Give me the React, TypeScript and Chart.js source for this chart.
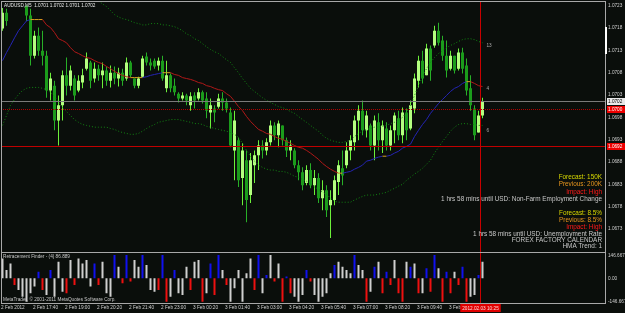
import React, { useEffect, useRef } from "react";
import { Chart, registerables } from "chart.js";

Chart.register(...registerables);

// ---------- data (prices stored as pips above 1.0600) ----------
const PIP_BASE = 1.06;
const PIP_SIZE = 0.0001;
const SYMBOL_TITLE = "AUDUSD,M5  1.0701 1.0702 1.0701 1.0702";

const OPEN_PIPS = [117.9,121.4,125.2,127.4,126.3,128.6,123.0,120.8,111.8,116.3,112.9,111.8,104.0,105.1,97.3,100.7,107.4,105.1,106.7,104.0,105.8,108.9,110.3,106.7,108.9,107.4,108.5,106.2,108.0,106.7,108.0,106.7,110.3,106.7,105.1,107.1,111.6,110.3,110.7,109.6,110.7,104.5,107.4,105.1,103.3,102.2,102.9,100.7,102.9,102.2,103.6,102.2,99.1,100.0,100.4,102.2,101.3,99.1,90.6,92.9,84.4,88.4,80.6,87.3,89.5,91.7,90.6,92.4,96.2,94.0,96.2,92.9,90.6,90.6,87.3,85.7,83.3,86.2,82.8,84.4,79.9,81.7,78.3,79.5,83.5,86.6,87.3,90.6,92.4,97.3,99.5,95.1,96.2,91.7,96.9,92.9,95.5,91.7,95.1,97.8,94.0,99.1,95.5,100.0,106.2,110.7,107.4,113.4,114.1,117.4,115.2,111.8,108.9,111.8,108.9,112.5,109.6,104.5,100.0,94.6,98.4];
const HIGH_PIPS = [122.5,122.3,128.6,129.7,129.7,128.6,123.0,122.3,117.4,118.1,117.4,112.9,108.0,106.2,102.9,108.5,111.4,109.6,107.4,107.4,108.9,112.5,110.7,110.3,109.8,110.3,109.4,109.6,109.4,109.1,108.9,111.4,110.7,106.7,107.1,111.8,112.5,111.2,111.2,111.4,111.8,110.7,107.8,106.7,103.6,103.6,103.3,103.6,103.6,104.5,104.0,103.6,102.2,100.7,103.3,103.6,102.2,100.2,99.5,93.5,92.2,90.6,90.0,90.6,92.9,92.9,93.3,97.3,96.9,97.3,96.2,93.5,92.9,91.1,88.4,86.8,87.3,87.7,86.2,85.5,83.9,82.8,81.7,85.0,88.4,90.6,92.4,94.0,98.4,100.7,101.8,99.5,96.6,98.4,98.9,97.3,96.9,96.2,99.1,99.5,100.2,100.0,101.8,107.8,111.8,112.9,114.5,114.1,118.5,119.2,116.3,115.2,112.9,111.8,113.4,113.6,111.2,107.4,100.7,99.5,102.4];
const LOW_PIPS = [117.4,118.5,124.5,125.2,124.8,124.1,119.6,109.6,111.2,111.8,109.6,102.4,101.8,95.1,91.7,97.3,102.9,104.0,101.8,103.6,104.5,108.5,104.5,105.8,106.2,104.5,105.1,104.7,105.4,104.9,105.1,106.2,106.9,104.5,104.5,106.9,109.6,108.5,108.9,108.5,106.2,103.6,103.6,102.9,101.3,101.8,100.7,99.5,100.0,101.8,101.1,97.8,95.5,96.9,100.0,99.5,99.1,91.3,83.9,82.4,78.3,74.5,78.8,83.3,86.2,88.8,89.5,91.7,92.9,91.3,91.7,89.1,88.4,86.6,83.9,81.7,82.8,82.1,80.6,78.8,77.2,75.7,71.0,78.3,80.6,82.8,86.6,88.4,90.6,92.9,94.0,93.5,90.6,88.4,90.6,90.0,90.6,90.6,92.2,92.9,92.2,92.9,95.1,98.9,104.7,105.6,107.4,106.2,113.6,114.1,110.7,106.9,108.5,107.8,108.5,107.8,102.9,99.5,92.9,94.6,97.8];
const CLOSE_PIPS = [121.4,119.6,127.4,126.3,128.6,125.2,120.8,111.8,116.3,112.9,111.8,104.0,106.7,97.3,100.7,107.4,105.1,108.5,102.9,106.2,107.4,111.2,106.2,108.9,107.4,108.5,106.2,108.0,106.7,108.0,106.2,110.3,107.4,105.1,106.7,111.2,110.3,109.6,109.4,110.7,106.7,107.4,104.5,103.6,102.2,102.9,101.8,102.7,101.8,103.6,101.8,99.5,100.7,99.1,102.2,101.3,100.0,91.7,97.3,83.9,90.6,79.5,88.4,89.5,91.7,90.6,92.4,96.2,94.0,96.6,92.9,90.6,91.7,87.3,85.7,82.8,86.2,82.8,84.4,79.9,81.7,77.2,79.5,83.9,87.3,85.0,90.6,92.9,97.3,99.5,95.1,98.4,91.7,97.3,92.9,96.2,91.7,95.1,98.4,94.0,99.1,95.1,100.7,106.7,110.7,106.7,113.4,108.5,117.4,114.7,111.8,108.5,111.8,108.5,112.5,108.9,104.0,100.7,94.0,98.4,101.6];
const HMA_PIPS = [110.7,112.5,114.1,115.8,117.4,118.5,119.6,119.9,119.9,119.9,119.9,118.7,118.1,117.0,115.6,115.2,114.7,113.6,112.7,112.3,111.8,111.4,111.2,110.7,110.3,110.0,109.4,108.9,108.3,107.8,107.4,107.1,106.9,106.9,106.9,106.9,107.1,107.4,107.6,107.8,108.0,108.0,108.0,107.6,107.4,106.9,106.7,106.5,106.2,105.8,105.6,105.1,104.9,104.5,104.2,104.0,103.3,102.7,101.6,100.4,99.5,98.2,97.1,96.2,95.3,94.9,94.4,94.2,93.7,93.3,93.1,92.6,92.2,91.7,91.3,91.1,90.6,90.0,89.3,88.6,87.7,87.0,86.4,85.9,85.5,85.5,85.7,85.9,86.4,86.8,87.3,88.2,88.4,88.8,89.1,89.3,89.3,89.5,90.0,90.4,91.1,91.5,92.0,93.7,95.1,96.4,97.5,98.9,100.0,101.1,102.0,102.9,103.8,104.5,104.9,105.6,106.0,106.0,105.6,105.1,104.9];
const BAND_UPPER_PIPS = [null,null,null,null,null,null,null,null,null,null,null,null,null,null,null,null,null,null,null,null,null,null,null,null,124.1,123.4,122.8,121.9,121.0,120.5,120.1,119.9,119.6,119.2,119.0,118.7,118.7,119.0,119.0,119.0,118.7,118.7,118.5,118.3,117.9,117.4,116.7,116.3,115.6,115.2,114.5,113.8,113.2,112.7,112.3,111.6,110.9,110.3,109.1,108.0,106.7,105.6,104.5,103.8,103.1,102.4,101.8,101.3,100.9,100.4,100.2,99.8,99.3,98.9,98.2,97.5,96.9,96.2,95.5,94.9,94.0,93.3,92.9,92.6,92.4,92.4,92.6,92.9,93.7,94.4,94.9,95.3,95.5,95.8,95.8,96.0,96.2,96.6,96.9,97.3,98.0,99.1,100.7,102.9,105.1,107.1,108.9,110.3,111.4,112.3,112.9,113.6,114.1,114.5,115.0,115.4,115.6,115.6,115.4,115.0,114.7];
const BAND_LOWER_PIPS = [96.2,98.4,100.7,102.0,103.1,104.0,104.5,104.7,104.7,104.7,104.5,104.2,103.6,102.7,101.3,100.2,99.3,98.4,97.5,96.9,96.4,96.2,96.0,95.8,95.8,95.8,95.8,95.5,95.3,94.9,94.6,94.4,94.2,94.2,94.4,94.9,95.5,96.0,96.4,96.9,97.1,97.3,97.5,97.5,97.5,97.3,97.1,96.9,96.6,96.6,96.4,96.0,95.8,95.5,95.3,95.1,94.9,94.6,94.2,93.5,92.2,90.6,89.3,88.2,87.3,86.8,86.4,86.2,86.2,85.9,85.9,85.7,85.3,84.8,84.6,84.1,83.7,83.0,82.4,81.9,81.2,80.8,79.9,79.2,79.0,79.0,79.0,79.0,79.5,79.9,80.3,80.6,80.6,80.6,80.8,81.0,81.2,81.7,82.1,82.6,83.0,83.9,84.6,85.3,85.9,86.6,87.5,88.4,90.0,91.3,92.6,93.7,94.9,95.8,96.4,96.6,96.6,96.4,96.4,96.2,96.2];

const OSC_VALUES = [127,53,95,-42,-74,-117,-149,-95,-53,42,-74,-106,53,-117,106,-85,-95,117,-42,127,95,117,-53,95,-42,106,-95,-117,148,74,-32,148,-21,117,74,148,85,-74,-85,-74,148,-149,-117,53,-95,-106,74,-74,106,117,-149,-95,95,-106,148,53,-42,-149,-64,53,-149,32,127,-74,148,-95,21,148,-21,95,-149,11,-95,-117,-149,-106,53,-21,-106,-149,-117,-95,32,85,106,74,53,32,148,85,53,-149,-85,74,106,-95,42,-42,117,-95,-149,106,74,95,-95,-95,64,-85,148,64,-149,42,-95,42,-42,74,-149,-117,-106,21,106];
// w = neutral, b = up signal, r = down signal
const OSC_STATE = "wwwrwwwwwbrwbwwwrwrwwwwbrwwwbwrbrwwbwwwrbrwbwwwrwwrwbrbwrwwwwwwrbwbwrwrbrwwwbrwwwwwbwwwwbwwrwbwrbrwrrwbwrwbrbwrbrwrbrwwbw";

const TIME_TICKS = ["2 Feb 2012","2 Feb 17:40","2 Feb 19:00","2 Feb 20:20","2 Feb 21:40","2 Feb 23:00","3 Feb 00:20","3 Feb 01:40","3 Feb 03:00","3 Feb 04:20","3 Feb 05:40","3 Feb 07:00","3 Feb 08:20","3 Feb 09:40","3 Feb 11:00"];
const TIME_TICK_EVERY = 8;
const PRICE_TICKS = [1.0723,1.0718,1.0713,1.0708,1.0703,1.0698,1.0693,1.0688,1.0683,1.0678,1.0673];
const BID_PRICE = 1.07017;
const DOTTED_LEVEL = 1.06999;
const SOLID_LEVEL = 1.06916;
const OSC_TICKS = [146.667, 0, -146.667];
const OSC_TICK_LABELS = ["146.667", "0.00", "-146.667"];
const CURSOR_INDEX = 119.5;
const CURSOR_LABEL = "2012.02.03 10:25";
const BAND_TAGS = ["13", "4", "6"];
const OSC_TITLE = "Retracement Finder - (4) 86.889";
const COPYRIGHT = "MetaTrader, \u00a9 2001-2011 MetaQuotes Software Corp.";
const NEWS_LINES = [
  { text: "Forecast: 150K", kind: "forecast" },
  { text: "Previous: 200K", kind: "previous" },
  { text: "Impact: High", kind: "impact" },
  { text: "1 hrs 58 mins until USD: Non-Farm Employment Change", kind: "event" },
  { text: "Forecast: 8.5%", kind: "forecast" },
  { text: "Previous: 8.5%", kind: "previous" },
  { text: "Impact: High", kind: "impact" },
  { text: "1 hrs 58 mins until USD: Unemployment Rate", kind: "event" },
  { text: "FOREX FACTORY CALENDAR", kind: "event" },
  { text: "HMA Trend: 1", kind: "event" },
];
const NEWS_Y = [177, 184.5, 192, 199.5, 213, 220.5, 227.5, 234, 240.5, 246.5];

// ---------- styles ----------
const BG = "#0a0e0b";
const SMALL_FONT = "4.7px 'Liberation Sans', Arial, sans-serif";
const NEWS_FONT = "6.4px 'Liberation Sans', Arial, sans-serif";
const NEWS_COLORS: Record<string, string> = { forecast: "#d8d800", previous: "#e8961e", impact: "#ff1a1a", event: "#c8c8c8" };
const OSC_COLORS: Record<string, string> = { w: "#cfcfcf", b: "#1010f0", r: "#ee1010" };

const toPrice = (p: number | null) => (p == null ? null : +(PIP_BASE + p * PIP_SIZE).toFixed(5));
const N_BARS = OPEN_PIPS.length;

function buildConfig(): any {
  const bull = OPEN_PIPS.map((o, i) => CLOSE_PIPS[i] >= o);
  const bodies = OPEN_PIPS.map((o, i) => ({ x: i, y: [toPrice(o), toPrice(CLOSE_PIPS[i])] }));
  const wicks = LOW_PIPS.map((l, i) => ({ x: i, y: [toPrice(l), toPrice(HIGH_PIPS[i])] }));
  const line = (arr: (number | null)[]) =>
    arr.map((v, i) => ({ x: i, y: toPrice(v) })).filter((p) => p.y != null);

  const barCommon = { type: "bar", grouped: false, inflateAmount: 0, borderWidth: 0, clip: 0, yAxisID: "y" };

  return {
    type: "bar",
    data: {
      datasets: [
        {
          type: "line", label: "HMA", data: line(HMA_PIPS), yAxisID: "y",
          borderWidth: 1, pointRadius: 0, tension: 0, borderColor: "#b01818",
          segment: {
            borderColor: (c: any) => {
              const a = c.p0.parsed.y, b = c.p1.parsed.y;
              if (Math.abs(b - a) < 1e-7) return "#d8a020";
              return b > a ? "#2424b4" : "#b01818";
            },
          },
        },
        {
          type: "line", label: "Upper", data: line(BAND_UPPER_PIPS), yAxisID: "y",
          borderWidth: 1, pointRadius: 0, tension: 0, borderColor: "#128512", borderDash: [1, 2],
        },
        {
          type: "line", label: "Lower", data: line(BAND_LOWER_PIPS), yAxisID: "y",
          borderWidth: 1, pointRadius: 0, tension: 0, borderColor: "#128512", borderDash: [1, 2],
        },
        {
          ...barCommon, label: "Bodies", data: bodies, barThickness: 3, minBarLength: 1,
          backgroundColor: bull.map((u) => (u ? "#b4ff80" : "#1b9c1b")),
        },
        {
          ...barCommon, label: "Wicks", data: wicks, barThickness: 1,
          backgroundColor: bull.map((u) => (u ? "#6cf03a" : "#27b027")),
        },
        {
          type: "bar", label: "Osc", yAxisID: "y2", grouped: false, inflateAmount: 0, borderWidth: 0,
          data: OSC_VALUES.map((v, i) => ({ x: i, y: v })), barThickness: 2,
          backgroundColor: OSC_VALUES.map((_, i) => OSC_COLORS[OSC_STATE[i]]),
        },
      ],
    },
    options: {
      responsive: false,
      animation: false,
      devicePixelRatio: 1,
      events: [],
      layout: { padding: { left: 0.5, right: 20.5, top: 2, bottom: 10 } },
      plugins: { legend: { display: false }, tooltip: { enabled: false } },
      scales: {
        x: { type: "linear", display: false, min: -0.5, max: 150.5, offset: false, grid: { display: false } },
        y: { type: "linear", display: false, min: 1.065643, max: 1.072383, grid: { display: false } },
        y2: { type: "linear", display: false, min: -157.5, max: 1762, grid: { display: false } },
      },
    },
    plugins: [mt4Plugin],
  };
}

const mt4Plugin = {
  id: "mt4Decor",
  beforeDraw(chart: any) {
    const { ctx, width, height } = chart;
    ctx.save();
    ctx.fillStyle = BG;
    ctx.fillRect(0, 0, width, height);
    ctx.restore();
  },
  afterDatasetsDraw(chart: any) {
    const { ctx, scales } = chart;
    const xs = scales.x, ys = scales.y, y2 = scales.y2;
    const L = 1, R = 605, T = 1, B = 303, SEP = 252;
    const snap = (v: number) => Math.round(v) + 0.5;
    ctx.save();

    const hline = (py: number, color: string, dash: number[]) => {
      ctx.beginPath();
      ctx.setLineDash(dash);
      ctx.strokeStyle = color;
      ctx.lineWidth = 1;
      ctx.moveTo(L, snap(py));
      ctx.lineTo(R, snap(py));
      ctx.stroke();
      ctx.setLineDash([]);
    };
    hline(ys.getPixelForValue(BID_PRICE), "#7a7a7a", []);
    hline(ys.getPixelForValue(DOTTED_LEVEL), "#b00000", [1, 1]);
    hline(ys.getPixelForValue(SOLID_LEVEL), "#c00000", []);

    // vertical cursor line
    const cx = snap(xs.getPixelForValue(CURSOR_INDEX));
    ctx.beginPath();
    ctx.strokeStyle = "#c80000";
    ctx.moveTo(cx, T);
    ctx.lineTo(cx, B);
    ctx.stroke();

    // frame
    ctx.strokeStyle = "#a8a8a8";
    ctx.beginPath();
    ctx.moveTo(L + 0.5, T); ctx.lineTo(L + 0.5, B);
    ctx.moveTo(L, T + 0.5); ctx.lineTo(R, T + 0.5);
    ctx.moveTo(R + 0.5, T); ctx.lineTo(R + 0.5, B + 1);
    ctx.moveTo(L, B + 0.5); ctx.lineTo(R, B + 0.5);
    ctx.moveTo(L, SEP + 0.5); ctx.lineTo(R, SEP + 0.5);
    ctx.stroke();
    ctx.fillStyle = "#ffffff";
    ctx.fillRect(605, 27, 2, 27);

    // price axis labels
    ctx.font = SMALL_FONT;
    ctx.textBaseline = "middle";
    ctx.textAlign = "left";
    ctx.fillStyle = "#d0d0d0";
    PRICE_TICKS.forEach((p) => {
      const py = ys.getPixelForValue(p);
      ctx.fillText(p.toFixed(4), 608, py);
    });
    const box = (price: number, bg: string, fg: string) => {
      const py = Math.round(ys.getPixelForValue(price));
      ctx.fillStyle = bg;
      ctx.fillRect(607, py - 3, 18, 7);
      ctx.fillStyle = fg;
      ctx.fillText(price.toFixed(4), 608, py + 0.5);
    };
    box(BID_PRICE, "#e8e8e8", "#000000");
    box(DOTTED_LEVEL, "#ee0000", "#ffffff");
    box(SOLID_LEVEL, "#ee0000", "#ffffff");

    // oscillator labels
    ctx.fillStyle = "#d0d0d0";
    OSC_TICKS.forEach((v, i) => ctx.fillText(OSC_TICK_LABELS[i], 608, y2.getPixelForValue(v)));

    // time labels
    TIME_TICKS.forEach((t, k) => {
      const px = xs.getPixelForValue(k * TIME_TICK_EVERY);
      ctx.fillText(t, px - 1.5, 308);
    });
    // cursor time box
    ctx.textAlign = "center";
    const tw = ctx.measureText(CURSOR_LABEL).width + 4;
    ctx.fillStyle = "#e00000";
    ctx.fillRect(cx - tw / 2, 304, tw, 8);
    ctx.fillStyle = "#ffd8d8";
    ctx.fillText(CURSOR_LABEL, cx, 308.5);

    // title & captions
    ctx.textAlign = "left";
    ctx.fillStyle = "#e8e8e8";
    ctx.fillText(SYMBOL_TITLE, 4, 5.5);
    ctx.fillStyle = "#c8c8c8";
    ctx.fillText(OSC_TITLE, 3, 257);
    ctx.fillText(COPYRIGHT, 3, 299.5);

    // series end tags
    const last = N_BARS - 1;
    const ex = xs.getPixelForValue(last) + 4;
    ctx.fillStyle = "#a8a8a8";
    ctx.fillText(BAND_TAGS[0], ex, ys.getPixelForValue(toPrice(BAND_UPPER_PIPS[last])) + 3);
    ctx.fillText(BAND_TAGS[1], ex, ys.getPixelForValue(toPrice(HMA_PIPS[last])) + 2);
    ctx.fillText(BAND_TAGS[2], ex, ys.getPixelForValue(toPrice(BAND_LOWER_PIPS[last])) + 5);

    // news block
    ctx.font = NEWS_FONT;
    ctx.textAlign = "right";
    NEWS_LINES.forEach((n, i) => {
      ctx.fillStyle = NEWS_COLORS[n.kind];
      ctx.fillText(n.text, 602, NEWS_Y[i]);
    });
    ctx.restore();
  },
};

export default function App() {
  const ref = useRef<HTMLCanvasElement>(null);
  useEffect(() => {
    document.body.style.margin = "0";
    const canvas = ref.current;
    if (!canvas) return;
    const chart = new Chart(canvas, buildConfig());
    return () => chart.destroy();
  }, []);
  return (
    <div style={{ position: "fixed", left: 0, top: 0, width: 625, height: 313, background: BG }}>
      <canvas ref={ref} width={625} height={313} style={{ display: "block", width: 625, height: 313 }} />
    </div>
  );
}
